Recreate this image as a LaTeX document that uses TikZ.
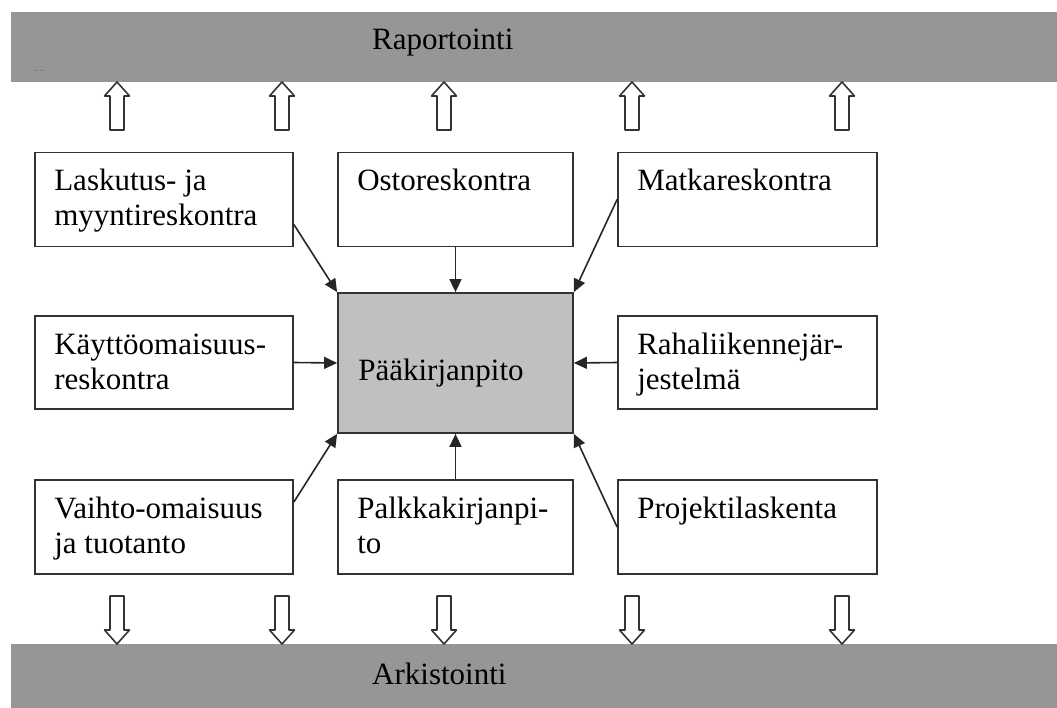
\documentclass[tikz,border=0pt]{standalone}
\usepackage{fontspec}
\setmainfont{Liberation Serif}
\usetikzlibrary{arrows.meta}
\definecolor{bargray}{HTML}{969696}
\definecolor{boxgray}{HTML}{C0C0C0}
\definecolor{edgecol}{HTML}{333333}
\begin{document}
\begin{tikzpicture}[x=1pt,y=-1pt,
  txt/.style={font=\fontsize{31}{35}\selectfont},
  box/.style={draw=edgecol, line width=1.8pt, rectangle, inner sep=0pt, fill=white,
    minimum width=258pt, minimum height=94pt},
  midbox/.style={box, minimum width=235pt},
  lbl/.style={anchor=north west, inner sep=0pt, xshift=20pt, yshift=-14pt, align=left,
    font=\fontsize{31}{35}\selectfont, text=black},
  bar/.style={fill=bargray, draw=none, rectangle, inner sep=0pt, minimum width=1046pt},
  conn/.style={draw=black!85, line width=1.6pt, -{Triangle[length=13pt,width=12pt]}},
  blockarr/.style={draw=edgecol, line width=1.6pt, line join=round, fill=white},
  uparr/.pic={\path[blockarr] (0,0) -- (12.5,14) -- (7,14) -- (7,48) -- (-7,48) -- (-7,14) -- (-12.5,14) -- cycle;},
  downarr/.pic={\path[blockarr] (0,0) -- (12.5,-14) -- (7,-14) -- (7,-48) -- (-7,-48) -- (-7,-14) -- (-12.5,-14) -- cycle;}
]
\useasboundingbox (0,0) rectangle (1057,708);

% bars
\node[bar, minimum height=70pt] (rap) at (534,47) {};
\node[bar, minimum height=64pt] (ark) at (534,676) {};
\node[txt, anchor=base west, inner sep=0pt] (raptxt) at (372,50) {Raportointi};
\node[txt, anchor=base west, inner sep=0pt] (arktxt) at (372,684) {Arkistointi};
\node[anchor=base west, inner sep=0pt, font=\fontsize{7}{7}\selectfont, text=gray!60!black] (dots) at (35,73) {-- --};

% block arrows
\foreach \x in {117,282,444,632,842} {
  \pic at (\x,82) {uparr};
  \pic at (\x,644) {downarr};
}

% boxes
\node[box, label={[lbl]north west:{\strut Laskutus- ja\\myyntireskontra}}] (A) at (164,199.5) {};
\node[midbox, label={[lbl]north west:{\strut Ostoreskontra}}] (B) at (455.5,199.5) {};
\node[box, minimum width=259pt, label={[lbl]north west:{\strut Matkareskontra}}] (C) at (747.5,199.5) {};

\node[box, minimum height=93pt, label={[lbl, yshift=-1pt]north west:{\strut Käyttöomaisuus-\\reskontra}}] (D) at (164,362.5) {};
\node[midbox, fill=boxgray, minimum height=140pt, label={[lbl, yshift=-49.5pt, xshift=1pt]north west:{\strut Pääkirjanpito}}] (P) at (455.5,363) {};
\node[box, minimum width=259pt, minimum height=93pt, label={[lbl, yshift=-1pt]north west:{\strut Rahaliikennejär-\\jestelmä}}] (F) at (747.5,362.5) {};

\node[box, label={[lbl, yshift=-1pt]north west:{\strut Vaihto-omaisuus\\ja tuotanto}}] (G) at (164,527) {};
\node[midbox, label={[lbl, yshift=-1pt]north west:{\strut Palkkakirjanpi-\\to}}] (H) at (455.5,527) {};
\node[box, minimum width=259pt, label={[lbl, yshift=-1pt]north west:{\strut Projektilaskenta}}] (I) at (747.5,527) {};

% connectors
\draw[conn] ([yshift=-25pt]A.east) -- (P.north west);
\draw[conn] (B.south) -- (P.north);
\draw[conn] (C.west) -- (P.north east);
\draw[conn] (D.east) -- (P.west);
\draw[conn] (F.west) -- (P.east);
\draw[conn] ([yshift=25pt]G.east) -- (P.south west);
\draw[conn] (H.north) -- (P.south);
\draw[conn] (I.west) -- (P.south east);
\end{tikzpicture}
\end{document}
